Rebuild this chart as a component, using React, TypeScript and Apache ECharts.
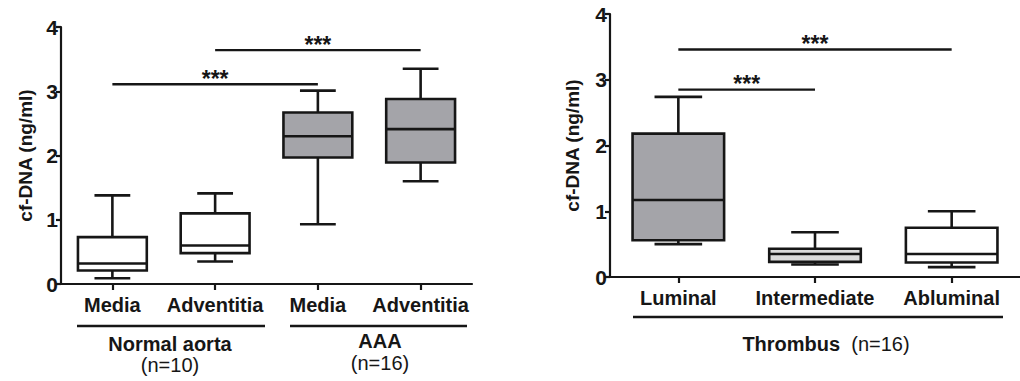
import React, { useEffect, useRef } from "react";
import * as echarts from "echarts";

const leftCategories = ["Media", "Adventitia", "Media", "Adventitia"];
// [min, Q1, median, Q3, max]
const leftBoxes = [
  [0.09, 0.21, 0.32, 0.73, 1.38],
  [0.35, 0.48, 0.6, 1.1, 1.41],
  [0.93, 1.97, 2.3, 2.67, 3.01],
  [1.6, 1.89, 2.41, 2.88, 3.35],
];
const leftSig = [
  [0, 2, 3.11],
  [1, 3, 3.64],
];

const rightCategories = ["Luminal", "Intermediate", "Abluminal"];
const rightBoxes = [
  [0.5, 0.56, 1.17, 2.18, 2.74],
  [0.19, 0.23, 0.35, 0.43, 0.68],
  [0.15, 0.22, 0.35, 0.75, 1.0],
];
const rightSig = [
  [0, 1, 2.85],
  [0, 2, 3.46],
];

const yTicks = [0, 1, 2, 3, 4];
const yName = "cf-DNA (ng/ml)";

const leftFills = ["#ffffff", "#ffffff", "#a4a4a9", "#a4a4a9"];
const rightFills = ["#a4a4a9", "#dcdcdc", "#ffffff"];

const FONT = "'Liberation Sans', Arial, Helvetica, sans-serif";
const INK = "#161616";

function boxRender(fills: string[]) {
  return (params: any, api: any) => {
    const idx = api.value(0);
    const vMin = api.value(1);
    const q1 = api.value(2);
    const med = api.value(3);
    const q3 = api.value(4);
    const vMax = api.value(5);
    const band = api.size([1, 0])[0];
    const bw = band * 0.67;
    const cw = bw * 0.52;
    const pMin = api.coord([idx, vMin]);
    const pQ1 = api.coord([idx, q1]);
    const pMed = api.coord([idx, med]);
    const pQ3 = api.coord([idx, q3]);
    const pMax = api.coord([idx, vMax]);
    const x = pMin[0];
    const ls = { stroke: INK, lineWidth: 2.6, fill: null };
    return {
      type: "group",
      children: [
        { type: "line", shape: { x1: x, y1: pQ3[1], x2: x, y2: pMax[1] }, style: ls },
        { type: "line", shape: { x1: x - cw / 2, y1: pMax[1], x2: x + cw / 2, y2: pMax[1] }, style: ls },
        { type: "line", shape: { x1: x, y1: pQ1[1], x2: x, y2: pMin[1] }, style: ls },
        { type: "line", shape: { x1: x - cw / 2, y1: pMin[1], x2: x + cw / 2, y2: pMin[1] }, style: ls },
        {
          type: "rect",
          shape: { x: x - bw / 2, y: pQ3[1], width: bw, height: pQ1[1] - pQ3[1] },
          style: { fill: fills[params.dataIndex], stroke: INK, lineWidth: 2.6 },
        },
        { type: "line", shape: { x1: x - bw / 2, y1: pMed[1], x2: x + bw / 2, y2: pMed[1] }, style: ls },
      ],
    };
  };
}

function sigRender(params: any, api: any) {
  const a = api.coord([api.value(0), api.value(2)]);
  const b = api.coord([api.value(1), api.value(2)]);
  return {
    type: "group",
    children: [
      { type: "line", shape: { x1: a[0], y1: a[1], x2: b[0], y2: b[1] }, style: { stroke: INK, lineWidth: 2.4 } },
      {
        type: "text",
        x: (a[0] + b[0]) / 2,
        y: a[1] + 6,
        style: {
          text: "***",
          fill: INK,
          font: `bold 23px ${FONT}`,
          textAlign: "center",
          textVerticalAlign: "bottom",
        },
      },
    ],
  };
}

function yAxisOpt(gridIndex: number, gap: number) {
  return {
    type: "value",
    gridIndex,
    min: yTicks[0],
    max: yTicks[yTicks.length - 1],
    interval: 1,
    name: yName,
    nameLocation: "middle",
    nameGap: gap,
    nameRotate: 90,
    nameTextStyle: { fontFamily: FONT, fontWeight: "bold", fontSize: 19, color: INK },
    axisLine: { show: true, lineStyle: { color: INK, width: 2.2 } },
    axisTick: { show: true, length: 5, lineStyle: { color: INK, width: 2.2 } },
    axisLabel: { fontFamily: FONT, fontWeight: "bold", fontSize: 21, color: INK, margin: 3 },
    splitLine: { show: false },
  };
}

function xAxisOpt(gridIndex: number, cats: string[]) {
  return {
    type: "category",
    gridIndex,
    data: cats,
    axisLine: { show: true, lineStyle: { color: INK, width: 2.2 } },
    axisTick: { show: true, alignWithLabel: true, interval: 0, length: 6, lineStyle: { color: INK, width: 2.2 } },
    axisLabel: { interval: 0, fontFamily: FONT, fontWeight: "bold", fontSize: 20, color: INK, margin: 11 },
    splitLine: { show: false },
  };
}

export default function App() {
  const ref = useRef<HTMLDivElement>(null);
  useEffect(() => {
    if (!ref.current) return;
    const chart = echarts.init(ref.current, undefined, { renderer: "svg" });
    const groupText = (x: number, y: number, text: string, bold: boolean) => ({
      type: "text",
      x,
      y,
      style: {
        text,
        fill: INK,
        font: `${bold ? "bold " : ""}20px ${FONT}`,
        textAlign: "center",
        textVerticalAlign: "middle",
      },
    });
    const hline = (x1: number, x2: number, y: number) => ({
      type: "line",
      shape: { x1, y1: y, x2, y2: y },
      style: { stroke: INK, lineWidth: 2.4 },
    });
    chart.setOption({
      animation: false,
      backgroundColor: "#ffffff",
      grid: [
        { left: 61, top: 27, width: 411, height: 257 },
        { left: 610, top: 14, width: 420, height: 263 },
      ],
      xAxis: [xAxisOpt(0, leftCategories), xAxisOpt(1, rightCategories)],
      yAxis: [yAxisOpt(0, 26), yAxisOpt(1, 28)],
      series: [
        {
          type: "custom",
          xAxisIndex: 0,
          yAxisIndex: 0,
          data: leftBoxes.map((b, i) => [i, ...b]),
          encode: { x: 0, y: [1, 2, 3, 4, 5] },
          renderItem: boxRender(leftFills),
        },
        {
          type: "custom",
          xAxisIndex: 1,
          yAxisIndex: 1,
          data: rightBoxes.map((b, i) => [i, ...b]),
          encode: { x: 0, y: [1, 2, 3, 4, 5] },
          renderItem: boxRender(rightFills),
        },
        {
          type: "custom",
          xAxisIndex: 0,
          yAxisIndex: 0,
          data: leftSig,
          encode: { x: [0, 1], y: 2 },
          renderItem: sigRender,
        },
        {
          type: "custom",
          xAxisIndex: 1,
          yAxisIndex: 1,
          data: rightSig,
          encode: { x: [0, 1], y: 2 },
          renderItem: sigRender,
        },
      ],
      graphic: [
        hline(77, 265, 326),
        hline(290, 467, 326),
        groupText(170, 344, "Normal aorta", true),
        groupText(170, 365, "(n=10)", false),
        groupText(380, 341, "AAA", true),
        groupText(380, 363, "(n=16)", false),
        hline(633, 1003, 317),
        {
          type: "text",
          x: 826,
          y: 344,
          style: {
            text: "{b|Thrombus}{n|  (n=16)}",
            textAlign: "center",
            textVerticalAlign: "middle",
            rich: {
              b: { fontFamily: FONT, fontWeight: "bold", fontSize: 20, fill: INK },
              n: { fontFamily: FONT, fontSize: 20, fill: INK },
            },
          },
        },
      ],
    });
    return () => chart.dispose();
  }, []);
  return (
    <div
      ref={ref}
      style={{ position: "absolute", left: 0, top: 0, width: 1020, height: 381 }}
    />
  );
}
